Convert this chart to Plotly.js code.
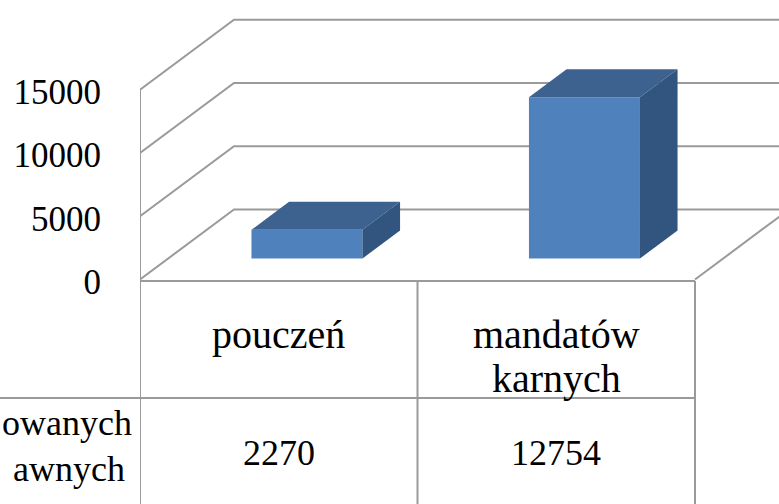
<!DOCTYPE html>
<html>
<head>
<meta charset="utf-8">
<script src="https://cdn.plot.ly/plotly-3.0.1.min.js"></script>
<style>.modebar-container{display:none !important;}</style>
</head>
<body style="margin:0">
<div id="c"></div>
<script>
// ---- data ----
var categories = ["pouczeń", "mandatów<br>karnych"];
var values = [2270, 12754];
var valueLabels = ["2270", "12754"];
var tickValues = [0, 5000, 10000, 15000];
var tickLabels = ["0", "5000", "10000", "15000"];
var rowLabelLines = ["owanych", "awnych"];

(function () {
  var cw = 779, ch = 504, ml = 140;
  var pxPerCat = 277.5, pxPerVal = 0.01265, zeroPx = 279.5;
  var xr0 = -0.5, xr1 = -0.5 + (cw - ml) / pxPerCat;
  var yr1 = zeroPx / pxPerVal, yr0 = -(ch - zeroPx) / pxPerVal;
  var depthX = 94 / pxPerCat, depthY = 70 / pxPerVal;
  var d0 = 0.3, d1 = 0.7, barW = 0.4;
  var gridColor = "#9a9a9a";
  var frontColor = "#4f81bd", topColor = "#3d6290", sideColor = "#325580";

  function pxToY(py) { return (zeroPx - py) / pxPerVal; }
  function pxToPaperX(px) { return (px - ml) / (cw - ml); }

  var nCat = values.length, leftC = -0.5, rightC = nCat - 0.5;
  var shp = [];
  var ls = {color: gridColor, width: 2};
  tickValues.forEach(function (v) {
    shp.push({type: "path", xref: "x", yref: "y", layer: "below", line: ls,
      path: "M" + leftC + "," + v + " L" + (leftC + depthX) + "," + (v + depthY) +
            " L" + (rightC + depthX + 1) + "," + (v + depthY)});
  });
  shp.push({type: "line", xref: "x", yref: "y", layer: "below", line: ls,
    x0: leftC, x1: leftC, y0: 0, y1: tickValues[tickValues.length - 1]});
  shp.push({type: "line", xref: "x", yref: "y", layer: "below", line: ls,
    x0: rightC, y0: 0, x1: rightC + depthX, y1: depthY});
  shp.push({type: "line", xref: "x", yref: "y", layer: "below", line: ls,
    x0: leftC, x1: rightC, y0: pxToY(281), y1: pxToY(281)});
  shp.push({type: "line", xref: "paper", yref: "paper", layer: "above", line: ls,
    x0: pxToPaperX(0), x1: pxToPaperX(695), y0: 1 - 398 / ch, y1: 1 - 398 / ch});
  for (var k = 0; k <= nCat; k++) {
    shp.push({type: "line", xref: "x", yref: "y", layer: "below", line: ls,
      x0: k - 0.5, x1: k - 0.5, y0: pxToY(281), y1: yr0});
  }

  var tr = [];
  tr.push({type: "bar", x: values.map(function (v, i) { return i + d0 * depthX; }), y: values,
    base: values.map(function () { return d0 * depthY; }),
    width: barW, marker: {color: frontColor, line: {width: 0}}, hoverinfo: "skip", showlegend: false});
  values.forEach(function (v, i) {
    var xl = i - barW / 2 + d0 * depthX, xr = i + barW / 2 + d0 * depthX;
    var yb = d0 * depthY, yt = v + d0 * depthY;
    var ddx = (d1 - d0) * depthX, ddy = (d1 - d0) * depthY;
    tr.push({type: "scatter", mode: "lines", fill: "toself", fillcolor: topColor,
      line: {width: 0, color: topColor},
      x: [xl, xr, xr + ddx, xl + ddx, xl], y: [yt, yt, yt + ddy, yt + ddy, yt],
      hoverinfo: "skip", showlegend: false});
    tr.push({type: "scatter", mode: "lines", fill: "toself", fillcolor: sideColor,
      line: {width: 0, color: sideColor},
      x: [xr, xr + ddx, xr + ddx, xr, xr], y: [yb, yb + ddy, yt + ddy, yt, yb],
      hoverinfo: "skip", showlegend: false});
  });

  var ann = [];
  categories.forEach(function (c, i) {
    c.split("<br>").forEach(function (line, j) {
      ann.push({xref: "x", yref: "paper", x: i, y: 1 - (334 + 44 * j) / ch, yanchor: "middle",
        text: line, showarrow: false, font: {family: "Liberation Serif", size: 40, color: "#000"}});
    });
  });
  valueLabels.forEach(function (t, i) {
    ann.push({xref: "x", yref: "paper", x: i, y: 1 - 453 / ch, yanchor: "middle",
      text: t, showarrow: false, font: {family: "Liberation Serif", size: 36, color: "#000"}});
  });
  ann.push({xref: "paper", yref: "paper", x: pxToPaperX(134), y: 1 - 423 / ch,
    xanchor: "right", yanchor: "middle", text: rowLabelLines[0], showarrow: false,
    font: {family: "Liberation Serif", size: 36, color: "#000"}});
  ann.push({xref: "paper", yref: "paper", x: pxToPaperX(127), y: 1 - 469 / ch,
    xanchor: "right", yanchor: "middle", text: rowLabelLines[1], showarrow: false,
    font: {family: "Liberation Serif", size: 36, color: "#000"}});

  var lay = {
    width: cw, height: ch,
    margin: {l: ml, r: 0, t: 0, b: 0},
    showlegend: false,
    xaxis: {range: [xr0, xr1], visible: false},
    yaxis: {range: [yr0, yr1], tickvals: tickValues, ticktext: tickLabels,
      showgrid: false, zeroline: false, showline: false, ticks: "",
      ticklabelstandoff: 38, ticklabelshift: 2,
      tickfont: {family: "Liberation Serif", size: 35, color: "#000"}},
    shapes: shp,
    annotations: ann
  };
  Plotly.newPlot("c", tr, lay);
})();
</script>
</body>
</html>
